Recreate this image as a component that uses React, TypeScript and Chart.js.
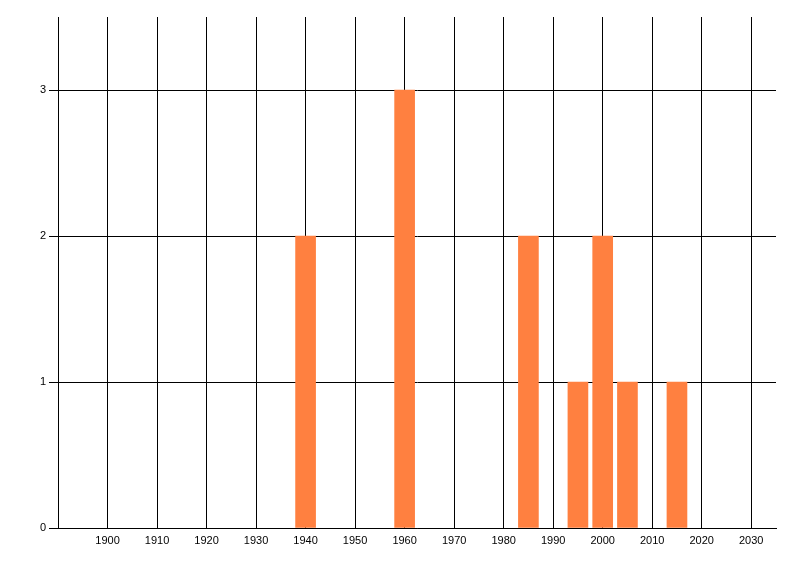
import React, { useEffect, useRef } from "react";
import { Chart, registerables } from "chart.js";

Chart.register(...registerables);

const years = [1940, 1960, 1985, 1995, 2000, 2005, 2015];
const counts = [2, 3, 2, 1, 2, 1, 1];
const xMin = 1890;
const xMax = 2035;
const xStep = 10;
const yMax = 3.5;
const yStep = 1;

function stepTicks(min: number, max: number, step: number) {
  const out: { value: number }[] = [];
  for (let v = min; v <= max + 1e-9; v += step) out.push({ value: v });
  return out;
}

export default function App() {
  const ref = useRef<HTMLCanvasElement | null>(null);
  useEffect(() => {
    if (!ref.current) return;
    const font = { family: "'Liberation Sans', Arial, sans-serif", size: 11 };
    const chart = new Chart(ref.current, {
      type: "bar",
      data: {
        datasets: [
          {
            data: years.map((y, i) => ({ x: y, y: counts[i] })),
            backgroundColor: "#FF8040",
            borderWidth: 0,
            barThickness: 20,
          },
        ],
      },
      options: {
        animation: false,
        responsive: false,
        maintainAspectRatio: false,
        layout: { padding: { top: 17, right: 24, left: 0, bottom: 0 } },
        plugins: { legend: { display: false }, tooltip: { enabled: false } },
        scales: {
          x: {
            type: "linear",
            min: xMin,
            max: xMax,
            offset: false,
            afterBuildTicks: (s: any) => {
              s.ticks = stepTicks(xMin, xMax, xStep);
            },
            afterFit: (s: any) => {
              s.height = 48;
            },
            ticks: {
              color: "#000",
              font,
              padding: 6,
              maxRotation: 0,
              autoSkip: false,
              callback: (v: any) => (v === xMin ? "" : String(v)),
            },
            grid: { color: "#000", lineWidth: 1, drawTicks: false, offset: false },
            border: { color: "#000", width: 1 },
          },
          y: {
            type: "linear",
            min: 0,
            max: yMax,
            afterBuildTicks: (s: any) => {
              s.ticks = stepTicks(0, yMax, yStep);
            },
            afterFit: (s: any) => {
              s.width = 58;
            },
            ticks: { color: "#000", font, padding: 3, autoSkip: false },
            grid: { color: "#000", lineWidth: 1, tickLength: 9 },
            border: { color: "#000", width: 1 },
          },
        },
      },
    });
    return () => chart.destroy();
  }, []);
  return (
    <div style={{ position: "fixed", left: 0, top: 0, width: 800, height: 576, background: "#fff" }}>
      <canvas ref={ref} width={800} height={576} style={{ width: 800, height: 576 }} />
    </div>
  );
}
